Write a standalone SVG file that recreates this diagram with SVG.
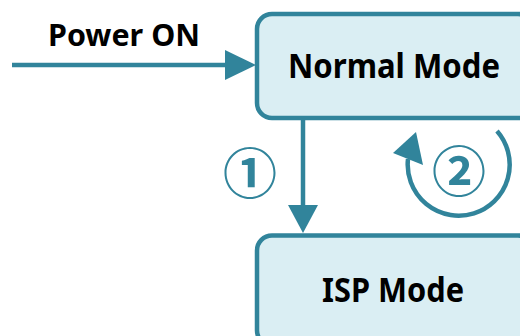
<svg xmlns="http://www.w3.org/2000/svg" width="520" height="336" viewBox="0 0 520 336">
<style>
.box{fill:#DAEEF3;stroke:#31849B;stroke-width:4.5}
.lbl{font-family:"Noto Sans","Liberation Sans",sans-serif;font-weight:bold;fill:#000}
.ln{stroke:#31849B;stroke-width:4.5;fill:none}
.hd{fill:#31849B}
.num{font-family:"Noto Sans CJK KR","Noto Sans CJK SC",sans-serif;fill:#31849B;font-weight:bold}
</style>
<rect width="520" height="336" fill="#fff"/>
<g id="connectors">
<g id="power-on">
<line class="ln" x1="12" y1="65" x2="228" y2="65"/>
<polygon class="hd" points="225,50 256,65 225,80"/>
<text class="lbl" x="124" y="46" font-size="29.5" text-anchor="middle" textLength="152" lengthAdjust="spacingAndGlyphs">Power ON</text>
</g>
<g id="to-isp">
<line class="ln" x1="303" y1="118" x2="303" y2="208"/>
<polygon class="hd" points="288,205 318,205 303,233"/>
<text class="num" x="250" y="170" font-size="54" text-anchor="middle" dominant-baseline="central">①</text>
</g>
<g id="loop">
<path class="ln" d="M 497 131 A 51 51 0 1 1 408 159"/>
<polygon class="hd" points="416,132 393,153 423,165"/>
<text class="num" x="459" y="168" font-size="54" text-anchor="middle" dominant-baseline="central">②</text>
</g>
</g>
<g id="normal-mode">
<rect class="box" x="257" y="14" width="276" height="104" rx="15"/>
<text class="lbl" x="394" y="77.5" font-size="34" text-anchor="middle" textLength="212" lengthAdjust="spacingAndGlyphs">Normal Mode</text>
</g>
<g id="isp-mode">
<rect class="box" x="257" y="235.5" width="276" height="110" rx="15"/>
<text class="lbl" x="393" y="301.5" font-size="34" text-anchor="middle" textLength="142" lengthAdjust="spacingAndGlyphs">ISP Mode</text>
</g>
</svg>
